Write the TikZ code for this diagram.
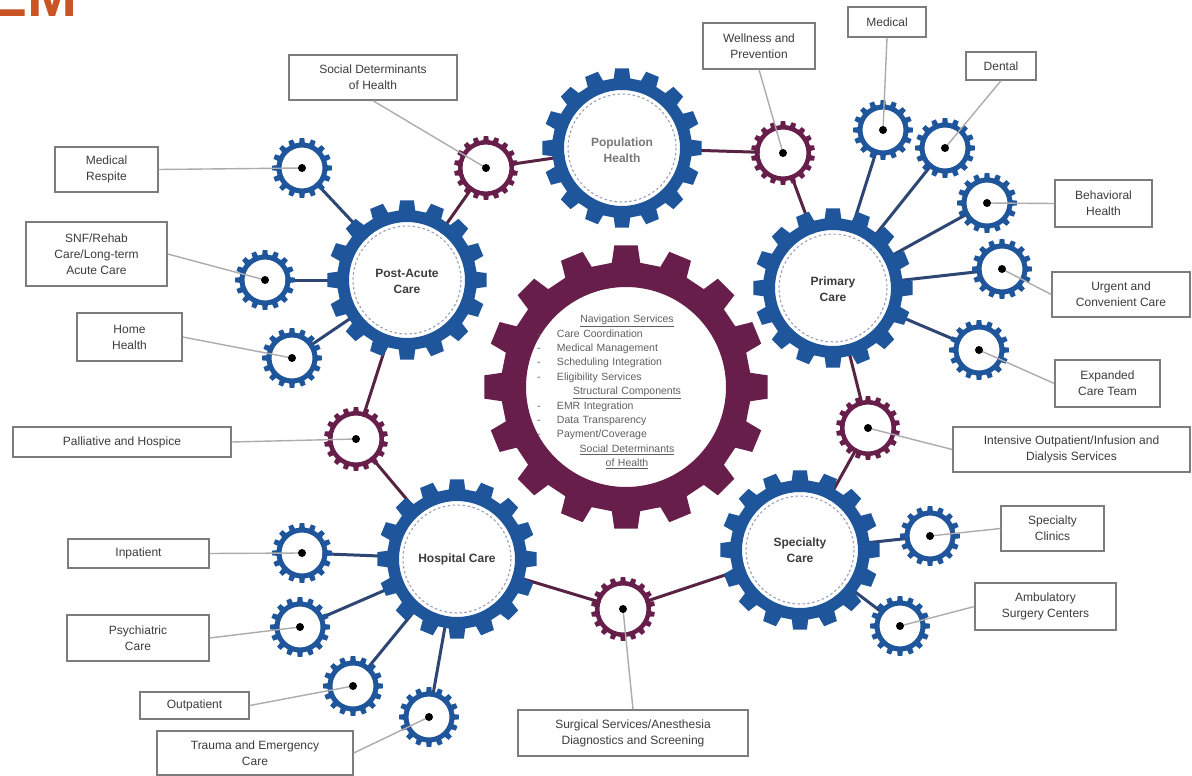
\documentclass[tikz,border=0pt]{standalone}
\usepackage{fontspec}
\setmainfont{Liberation Sans}
\definecolor{gblue}{RGB}{31,85,155}
\definecolor{gpurp}{RGB}{104,30,74}
\definecolor{cblue}{RGB}{45,70,115}
\definecolor{cpurp}{RGB}{88,35,66}
\definecolor{lgray}{RGB}{172,172,172}
\definecolor{bgray}{RGB}{125,125,125}
\definecolor{tgray}{RGB}{60,60,60}
\definecolor{ctgray}{RGB}{95,95,95}
\definecolor{emor}{RGB}{200,85,35}
\definecolor{dashc}{RGB}{150,160,190}
\newcommand{\lblfont}{\fontsize{12}{16}\selectfont}
\newcommand{\ctrhead}[1]{\makebox[180pt][c]{\underline{#1}}}
\newcommand{\ctritem}[1]{\makebox[20pt][l]{-}#1}
% #1 centre, #2 teeth, #3 tip r, #4 root r, #5 hole r, #6 colour, #7 tip fraction
\newcommand{\gearat}[7]{%
  \pgfmathsetmacro\gp{360/#2}%
  \pgfmathsetmacro\gt{\gp*#7}%
  \pgfmathsetmacro\gr{\gp*(#7+0.08)}%
  \begin{scope}[shift={(#1)}]
    \fill[white] (0,0) circle (#5);
    \fill[#6, even odd rule] ({90-\gr}:#4)
      \foreach \k in {1,...,#2} {
        -- ({90+(\k-1)*\gp-\gr}:#4) -- ({90+(\k-1)*\gp-\gt}:#3)
        -- ({90+(\k-1)*\gp+\gt}:#3) -- ({90+(\k-1)*\gp+\gr}:#4)
      } -- cycle (0,0) circle (#5);
  \end{scope}}
\newcommand{\biggear}[1]{\gearat{#1}{16}{80}{70}{58}{gblue}{0.22}%
  \draw[dashc, line width=1.1pt, dash pattern=on 2.5pt off 2.5pt] (#1) circle (54);}
\newcommand{\sbgear}[1]{\gearat{#1}{16}{30}{25.5}{20.5}{gblue}{0.2}}
\newcommand{\spgear}[1]{\gearat{#1}{18}{32}{28}{23.5}{gpurp}{0.2}}
\begin{document}
\begin{tikzpicture}[x=1pt,y=-1pt,
  lbl/.style={draw=bgray, line width=1.4pt, fill=white, align=center, inner sep=0pt, font=\lblfont, text=tgray},
  gl/.style={draw=lgray, line width=1.4pt},
  bcon/.style={draw=cblue, line width=3pt},
  pcon/.style={draw=cpurp, line width=3pt},
  gtxt/.style={align=center, font=\bfseries\fontsize{12}{16}\selectfont, text=tgray, inner sep=0pt},
  dot/.style={circle, fill=black, inner sep=0pt, minimum size=8pt},
  ctxt/.style={align=left, text width=180pt, inner sep=0pt, font=\fontsize{10.5}{14.4}\selectfont, text=ctgray}]
\useasboundingbox (0,0) rectangle (1192,776);
\fill[white] (0,0) rectangle (1192,776);
\node[anchor=base west, inner sep=0pt, font=\bfseries\fontsize{60}{60}\selectfont, text=emor] (title) at (-13,17) {EM};
% gear centres
\coordinate (ph) at (622,148);
\coordinate (pac) at (407,280);
\coordinate (pcare) at (833,288);
\coordinate (hc) at (457,559);
\coordinate (sc) at (800,550);
\coordinate (cen) at (626,387);
\coordinate (respg) at (302,168);
\coordinate (snfg) at (265,280);
\coordinate (homeg) at (292,358);
\coordinate (inpg) at (302,553);
\coordinate (psyg) at (300,627);
\coordinate (outg) at (353,686);
\coordinate (trag) at (429,717);
\coordinate (medg) at (883,130);
\coordinate (dentg) at (945,148);
\coordinate (behg) at (987,203);
\coordinate (urgg) at (1002,269);
\coordinate (expg) at (979,350);
\coordinate (sclg) at (930,536);
\coordinate (ambg) at (900,626);
\coordinate (sdg) at (486,168);
\coordinate (wg) at (783,153);
\coordinate (palg) at (356,439);
\coordinate (iog) at (868,428);
\coordinate (sug) at (623,609);
% thick connectors
\foreach \a/\b in {respg/pac, snfg/pac, homeg/pac, medg/pcare, dentg/pcare, behg/pcare, urgg/pcare, expg/pcare, sclg/sc, ambg/sc, inpg/hc, psyg/hc, outg/hc, trag/hc}
  \draw[bcon] (\a) -- (\b);
\foreach \a/\b in {pac/sdg, sdg/ph, ph/wg, wg/pcare, pcare/iog, iog/sc, sc/sug, sug/hc, hc/palg, palg/pac}
  \draw[pcon] (\a) -- (\b);
% gears
\gearat{cen}{16}{142}{125}{100}{gpurp}{0.21}
\biggear{ph}
\biggear{pac}
\biggear{pcare}
\biggear{hc}
\biggear{sc}
\foreach \g in {respg, snfg, homeg, inpg, psyg, outg, trag, medg, dentg, behg, urgg, expg, sclg, ambg}
  {\sbgear{\g}}
\foreach \g in {sdg, wg, palg, iog, sug}
  {\spgear{\g}}
% gear labels
\node[gtxt, text={rgb,255:red,120;green,120;blue,120}] (phl) at (622,150) {Population\\Health};
\node[gtxt] (pacl) at (407,281) {Post-Acute\\Care};
\node[gtxt] (pcarel) at (833,289) {Primary\\Care};
\node[gtxt] (hcl) at (457,559) {Hospital Care};
\node[gtxt] (scl) at (800,550) {Specialty\\Care};
\node[ctxt] (centxt) at (627,392) {\ctrhead{Navigation Services}\\
\ctritem{Care Coordination}\\
\ctritem{Medical Management}\\
\ctritem{Scheduling Integration}\\
\ctritem{Eligibility Services}\\
\ctrhead{Structural Components}\\
\ctritem{EMR Integration}\\
\ctritem{Data Transparency}\\
\ctritem{Payment/Coverage}\\
\ctrhead{Social Determinants}\\
\ctrhead{of Health}};
% label boxes
\node[lbl, minimum width=168pt, minimum height=45pt] (socdet) at (373,77.5) {Social Determinants\\of Health};
\node[lbl, minimum width=112pt, minimum height=46pt] (well) at (759,46) {Wellness and\\Prevention};
\node[lbl, minimum width=78pt, minimum height=30pt] (med) at (887,22) {Medical};
\node[lbl, minimum width=70pt, minimum height=28pt] (dent) at (1001,66) {Dental};
\node[lbl, minimum width=97pt, minimum height=47pt] (behav) at (1103.5,203.5) {Behavioral\\Health};
\node[lbl, minimum width=138pt, minimum height=45pt] (urgent) at (1121,294.5) {Urgent and\\Convenient Care};
\node[lbl, minimum width=105pt, minimum height=47pt] (expand) at (1107.5,383.5) {Expanded\\Care Team};
\node[lbl, minimum width=237pt, minimum height=45pt] (intens) at (1071.5,449.5) {Intensive Outpatient/Infusion and\\Dialysis Services};
\node[lbl, minimum width=103pt, minimum height=45pt] (specl) at (1052.5,528.5) {Specialty\\Clinics};
\node[lbl, minimum width=141pt, minimum height=47pt] (ambul) at (1045.5,606.5) {Ambulatory\\Surgery Centers};
\node[lbl, minimum width=230pt, minimum height=46pt] (surg) at (633,733) {Surgical Services/Anesthesia\\Diagnostics and Screening};
\node[lbl, minimum width=196pt, minimum height=44pt] (trauma) at (255,753) {Trauma and Emergency\\Care};
\node[lbl, minimum width=109pt, minimum height=27pt] (outp) at (194.5,705.5) {Outpatient};
\node[lbl, minimum width=142pt, minimum height=46pt] (psych) at (138,638) {Psychiatric\\Care};
\node[lbl, minimum width=141pt, minimum height=29pt] (inpat) at (138.5,553.5) {Inpatient};
\node[lbl, minimum width=218pt, minimum height=30pt] (pall) at (122,442) {Palliative and Hospice};
\node[lbl, minimum width=105pt, minimum height=48pt] (home) at (129.5,337) {Home\\Health};
\node[lbl, minimum width=141pt, minimum height=64pt] (snf) at (96.5,254) {SNF/Rehab\\Care/Long-term\\Acute Care};
\node[lbl, minimum width=103pt, minimum height=45pt] (resp) at (106.5,169.5) {Medical\\Respite};
% label lines
\foreach \bx/\g in {socdet.south/sdg, well.south/wg, med.south/medg, dent.south/dentg, surg.north/sug,
  behav.west/behg, urgent.west/urgg, expand.west/expg, intens.west/iog, specl.west/sclg, ambul.west/ambg,
  trauma.east/trag, outp.east/outg, psych.east/psyg, inpat.east/inpg, pall.east/palg, home.east/homeg, snf.east/snfg, resp.east/respg}
  \draw[gl] (\bx) -- (\g);
% centre dots
\foreach \g in {respg, snfg, homeg, inpg, psyg, outg, trag, medg, dentg, behg, urgg, expg, sclg, ambg, sdg, wg, palg, iog, sug}
  \node[dot] (\g-dot) at (\g) {};
\end{tikzpicture}
\end{document}
